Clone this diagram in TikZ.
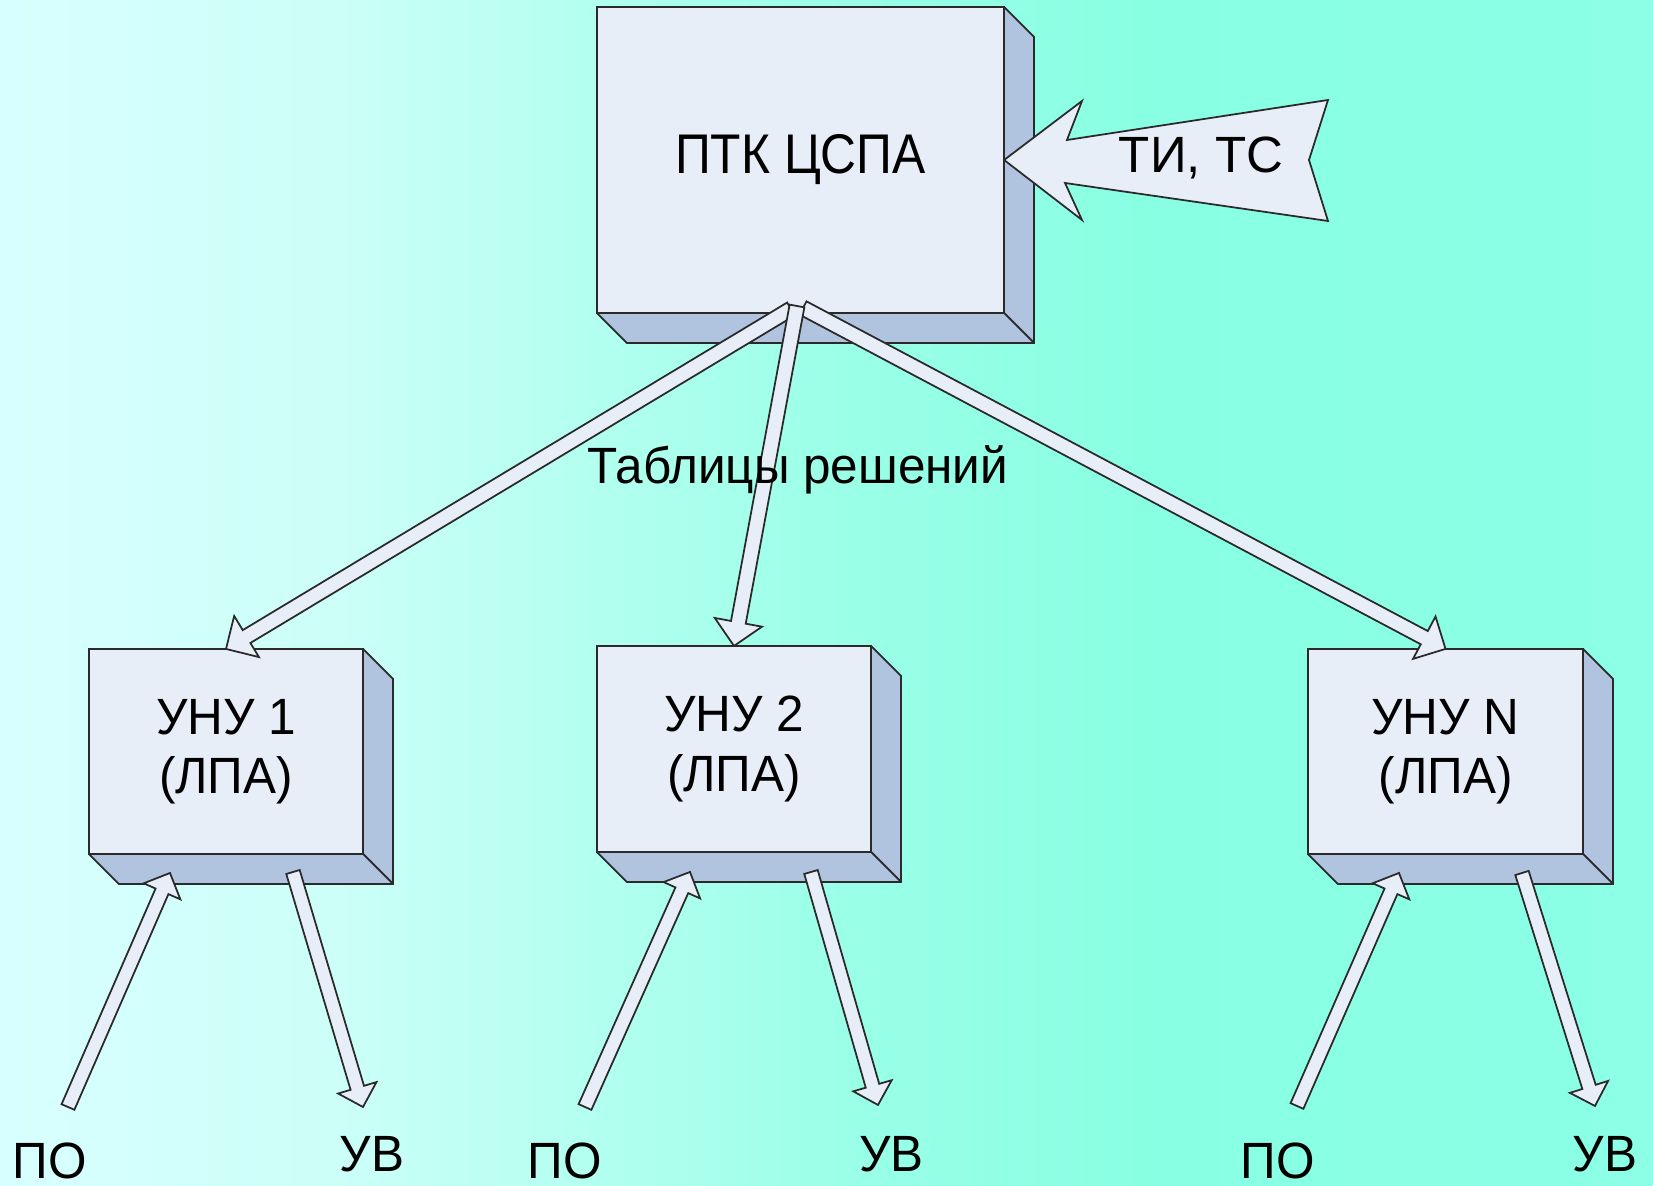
\documentclass[tikz,border=0pt]{standalone}
\usepackage{fontspec}
\setmainfont{Liberation Sans}[FakeStretch=0.97]
\newfontfamily\topfont[FakeStretch=0.89]{Liberation Sans}
\newfontfamily\widefont{Liberation Sans}
\usetikzlibrary{calc}
\definecolor{facecol}{HTML}{E8EEF8}
\definecolor{sidecol}{HTML}{B0C4E0}
\definecolor{edgecol}{HTML}{2A2A2A}
\definecolor{bgA}{HTML}{D8FFFF}
\definecolor{bgB}{HTML}{CCFFF8}
\definecolor{bgC}{HTML}{9CFFE8}
\definecolor{bgD}{HTML}{88FFE2}
\definecolor{bgE}{HTML}{8CFFE6}
\pgfdeclarehorizontalshading{bgshade}{100bp}{color(0bp)=(bgA); color(25bp)=(bgA); color(35bp)=(bgB); color(50bp)=(bgC); color(60bp)=(bgD); color(75bp)=(bgE); color(100bp)=(bgE)}
\newcommand\boxdepth[1]{%
  \filldraw[sideface] (#1.north east) -- ++(30,30) -- ($(#1.south east)+(30,30)$) -- (#1.south east) -- cycle;
  \filldraw[sideface] (#1.south west) -- ++(30,30) -- ($(#1.south east)+(30,30)$) -- (#1.south east) -- cycle;}
% tail, tip, shaft half width, head length, head half width
\newcommand\blockarrow[5]{%
  \coordinate (ba-h) at ($(#2)!#4!(#1)$);
  \filldraw[barrow] ($(#1)!#3!90:(#2)$) -- ($(ba-h)!#3!90:(#2)$) -- ($(ba-h)!#5!90:(#2)$) -- (#2)
    -- ($(ba-h)!#5!-90:(#2)$) -- ($(ba-h)!#3!-90:(#2)$) -- ($(#1)!#3!-90:(#2)$) -- cycle;}
\tikzset{
  frontbox/.style={draw=edgecol, fill=facecol, line width=0.5pt, inner sep=0pt, outer sep=0pt,
    align=center, text=black, font=\fontsize{14.5}{16.8}\selectfont},
  sideface/.style={draw=edgecol, fill=sidecol, line width=0.5pt, line join=round},
  barrow/.style={draw=edgecol, fill=facecol, line width=0.5pt, line join=miter},
  lbl/.style={font=\fontsize{14.5}{16.8}\selectfont, inner sep=0pt, anchor=base, text=black}
}
\begin{document}
\begin{tikzpicture}[x=0.01cm, y=-0.01cm]
\shade[shading=bgshade] (0,0) rectangle (1653,1186);
\useasboundingbox (0,0) rectangle (1653,1186);

% boxes
\node[frontbox, minimum width=115.80pt, minimum height=87.07pt, font=\topfont\fontsize{15.9}{18}\selectfont] (ptk) at (800.5,160) {ПТК ЦСПА};
\node[frontbox, minimum width=77.96pt, minimum height=58.33pt] (u1) at (226,751.5) {УНУ 1\\(ЛПА)};
\node[frontbox, minimum width=77.96pt, minimum height=58.61pt] (u2) at (734,749) {УНУ 2\\(ЛПА)};
\node[frontbox, minimum width=78.25pt, minimum height=58.33pt] (uN) at (1445.5,751.5) {УНУ N\\(ЛПА)};
\boxdepth{ptk}
\boxdepth{u1}
\boxdepth{u2}
\boxdepth{uN}

% input arrow TI, TC
\filldraw[barrow] (ptk.east) -- (1082,101) -- (1067,140) -- (1328,100) -- (1309,160) -- (1328,221) -- (1065,183) -- (1082,220) -- cycle;
\node[lbl, font=\widefont\fontsize{14.5}{16.8}\selectfont] (ti) at (1201,173) {ТИ, ТС};

% fan arrows
\coordinate (f1) at (791,309);
\coordinate (f2) at (797,306);
\coordinate (f3) at (803,308);
\blockarrow{f1}{u1.north}{2.13pt}{6.83pt}{6.83pt}
\blockarrow{f3}{uN.north}{2.13pt}{6.83pt}{6.83pt}
\blockarrow{f2}{u2.north}{2.13pt}{6.83pt}{6.83pt}

% bottom arrows
\coordinate (p1t) at (68,1107);  \coordinate (p1h) at (170,873);
\coordinate (v1t) at (293,872);  \coordinate (v1h) at (363,1107);
\coordinate (p2t) at (585,1107); \coordinate (p2h) at (690,872);
\coordinate (v2t) at (811,872);  \coordinate (v2h) at (878,1105);
\coordinate (pNt) at (1297,1106); \coordinate (pNh) at (1399,873);
\coordinate (vNt) at (1522,873);  \coordinate (vNh) at (1595,1106);
\blockarrow{p1t}{p1h}{1.99pt}{5.69pt}{5.69pt}
\blockarrow{v1t}{v1h}{1.99pt}{5.69pt}{5.69pt}
\blockarrow{p2t}{p2h}{1.99pt}{5.69pt}{5.69pt}
\blockarrow{v2t}{v2h}{1.99pt}{5.69pt}{5.69pt}
\blockarrow{pNt}{pNh}{1.99pt}{5.69pt}{5.69pt}
\blockarrow{vNt}{vNh}{1.99pt}{5.69pt}{5.69pt}

% labels
\node[lbl] (tab) at (798,484) {Таблицы решений};
\node[lbl] (po1) at (49.5,1179) {ПО};
\node[lbl] (uv1) at (372,1172) {УВ};
\node[lbl] (po2) at (565,1179) {ПО};
\node[lbl] (uv2) at (891.5,1172) {УВ};
\node[lbl] (poN) at (1277.5,1179) {ПО};
\node[lbl] (uvN) at (1605,1172) {УВ};
\end{tikzpicture}
\end{document}
